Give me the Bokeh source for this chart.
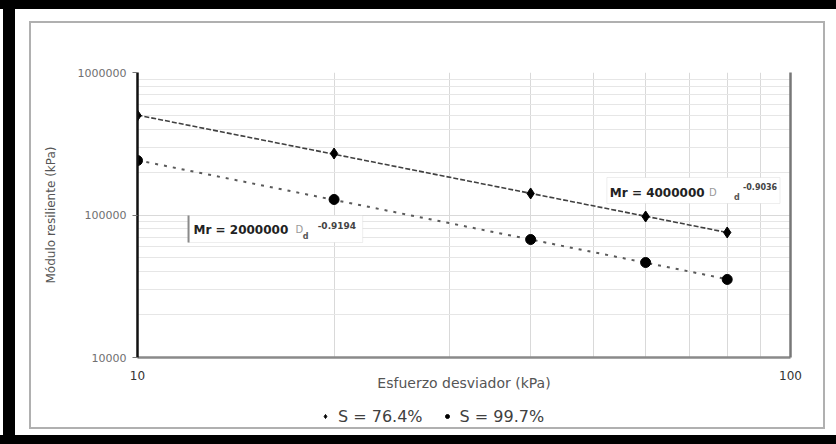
import numpy as np
from bokeh.plotting import figure
from bokeh.layouts import column
from bokeh.models import (FixedTicker, BasicTickFormatter, LogAxis, Legend, LegendItem,
                          BoxAnnotation, Label, Range1d, ColumnDataSource)
from bokeh.embed import file_html
from bokeh.resources import INLINE

# ---------------- data ----------------
esfuerzo = [10, 20, 40, 60, 80]                      # kPa
mr_s764 = [499000, 270000, 141600, 97600, 75400]     # kPa, S = 76.4 %
mr_s997 = [241000, 128500, 67300, 46400, 35300]      # kPa, S = 99.7 %
series_names = ["S = 76.4%", "S = 99.7%"]
eq_s764 = ["Mr = 4000000", "D", "d", "-0.9036"]
eq_s997 = ["Mr = 2000000", "D", "d", "-0.9194"]
x_major = [10, 100]
x_minor = [20, 30, 40, 50, 60, 70, 80, 90]
y_major = [10000, 100000, 1000000]
y_minor = [2e4, 3e4, 4e4, 5e4, 6e4, 7e4, 8e4, 9e4, 2e5, 3e5, 4e5, 5e5, 6e5, 7e5, 8e5, 9e5]
x_title = "Esfuerzo desviador (kPa)"
y_title = "Módulo resiliente (kPa)"

FONT = "DejaVu Sans"
W, H = 836, 444
H_MAIN = 400

# page frame drawn with CSS backgrounds behind transparent canvases
def strip(color, x, y, w, h):
    return (f"linear-gradient({color},{color})", f"{x}px {y}px", f"{w}px {h}px")

strips = [
    strip("#000000", 0, 0, W, 9),        # top black band
    strip("#000000", 3, 0, 12, H),       # left black band
    strip("#000000", 0, 435, W, 9),      # bottom black band
    strip("#b0b0b0", 29, 21, 796, 2),    # inner grey frame
    strip("#b0b0b0", 29, 427, 796, 2),
    strip("#b0b0b0", 29, 21, 2, 408),
    strip("#b0b0b0", 823, 21, 2, 408),
]
page_styles = {
    "background-color": "white",
    "background-image": ", ".join(s[0] for s in strips),
    "background-position": ", ".join(s[1] for s in strips),
    "background-size": ", ".join(s[2] for s in strips),
    "background-repeat": "no-repeat",
}

p = figure(width=W, height=H_MAIN, x_axis_type="log", y_axis_type="log",
           x_range=Range1d(10, 100), y_range=Range1d(1e4, 1e6),
           output_backend="svg", toolbar_location=None,
           min_border_left=137, min_border_right=46, min_border_top=72,
           min_border_bottom=H_MAIN - 357)
p.outline_line_color = None
p.background_fill_color = "white"
p.border_fill_color = None

# axes
xt = FixedTicker(ticks=x_major, minor_ticks=x_minor)
yt = FixedTicker(ticks=y_major, minor_ticks=y_minor)
xa = p.xaxis[0]
xa.ticker = xt
xa.formatter = BasicTickFormatter(use_scientific=False)
xa.axis_line_color = "#8a8a8a"
xa.axis_line_width = 2.5
xa.major_tick_line_color = None
xa.minor_tick_line_color = None
xa.major_label_standoff = 7
xa.major_label_text_font = FONT
xa.major_label_text_font_size = "12px"
xa.major_label_text_color = "#333333"
xa.axis_label = x_title
xa.axis_label_standoff = -8
xa.axis_label_text_font = FONT
xa.axis_label_text_font_size = "14px"
xa.axis_label_text_font_style = "normal"
xa.axis_label_text_color = "#555555"

ya = p.yaxis[0]
ya.ticker = yt
ya.formatter = BasicTickFormatter(use_scientific=False)
ya.axis_line_color = "#111111"
ya.axis_line_width = 2.5
ya.major_tick_line_color = "#777777"
ya.major_tick_out = 5
ya.major_tick_in = 0
ya.minor_tick_line_color = None
ya.major_label_standoff = 6
ya.major_label_text_font = FONT
ya.major_label_text_font_size = "11px"
ya.major_label_text_color = "#707070"
ya.axis_label = y_title
ya.axis_label_standoff = 17
ya.axis_label_text_font = FONT
ya.axis_label_text_font_size = "12px"
ya.axis_label_text_font_style = "normal"
ya.axis_label_text_color = "#555555"

ra = LogAxis(ticker=FixedTicker(ticks=y_major), axis_line_color="#777777", axis_line_width=2.5,
             major_tick_line_color=None, minor_tick_line_color=None,
             major_label_text_color=None, major_label_text_font_size="1px",
             major_label_standoff=0)
p.add_layout(ra, "right")

p.xgrid.ticker = xt
p.ygrid.ticker = yt
p.xgrid.grid_line_color = None
p.xgrid.minor_grid_line_color = "#d9d9d9"
p.ygrid.grid_line_color = "#d9d9d9"
p.ygrid.minor_grid_line_color = "#e6e6e6"

# ---------------- trend lines (power fits of the data) ----------------
def power_fit(xs, ys):
    b, a = np.polyfit(np.log10(xs), np.log10(ys), 1)
    xe = np.array([min(xs), max(xs)], dtype=float)
    return xe, 10 ** (a + b * np.log10(xe))

x1, y1 = power_fit(esfuerzo, mr_s764)
x2, y2 = power_fit(esfuerzo, mr_s997)
p.line(x1, y1, line_color="#404040", line_width=1.6, line_dash="5 2")
p.line(x2, y2, line_color="#5a5a5a", line_width=2, line_dash="3 6")

DIAMOND = dict(marker="diamond", size=11, fill_color="black", line_color="black")
CIRCLE = dict(marker="circle", size=10, fill_color="black", line_color="black")
src = ColumnDataSource(dict(x=esfuerzo, a=mr_s764, b=mr_s997))
p.scatter("x", "a", source=src, **DIAMOND)
p.scatter("x", "b", source=src, **CIRCLE)

# ---------------- helpers: reference pixel -> data coordinates ----------------
def fx(px):
    return 10 ** (1 + (px - 137) / 652.5)

def fy(py):
    return 10 ** (6 - (py - 72) / 142.5)

def eq_box(eq, l, r, t, b, tx, ty, dx, subx, suby, supx, supy, supsize, left_dark=False):
    p.add_layout(BoxAnnotation(left=fx(l), right=fx(r), top=fy(t), bottom=fy(b),
                               fill_color="white", fill_alpha=1,
                               line_color="#c8c8c8", line_width=1))
    if left_dark:
        p.add_layout(BoxAnnotation(left=fx(l - 1), right=fx(l + 1), top=fy(t), bottom=fy(b),
                                   fill_color="#8a8a8a", fill_alpha=1, line_color=None))
    common = dict(x_units="data", y_units="data", text_font=FONT, text_baseline="middle",
                  text_align="left")
    p.add_layout(Label(x=fx(tx), y=fy(ty), text=eq[0], text_font_size="12px",
                       text_font_style="bold", text_color="#222222", **common))
    p.add_layout(Label(x=fx(dx), y=fy(ty), text=eq[1], text_font_size="10px",
                       text_color="#9a9a9a", **common))
    p.add_layout(Label(x=fx(subx), y=fy(suby), text=eq[2], text_font_size="8px",
                       text_font_style="bold", text_color="#555555", **common))
    p.add_layout(Label(x=fx(supx), y=fy(supy), text=eq[3], text_font_size=supsize,
                       text_font_style="bold", text_color="#444444", **common))

eq_box(eq_s764, 606, 779, 177, 203, 609, 192, 708, 733, 197, 742, 186, "8px")
eq_box(eq_s997, 188, 362, 215, 242, 193, 229, 295, 302, 236, 317, 225, "9px", left_dark=True)

# ---------------- legend strip under the chart ----------------
# (the same series are drawn here outside the visible range, only to feed the legend)
lf = figure(width=W, height=H - H_MAIN, x_range=Range1d(0, 1), y_range=Range1d(0, 1),
            output_backend="svg", toolbar_location=None,
            x_axis_location=None, y_axis_location=None,
            min_border_left=0, min_border_right=0, min_border_top=0, min_border_bottom=0)
lf.outline_line_color = None
lf.background_fill_color = None
lf.border_fill_color = None
lf.grid.visible = False
lr1 = lf.scatter("x", "a", source=src, marker="diamond", size=12, fill_color="black", line_color="black")
lr2 = lf.scatter("x", "b", source=src, marker="circle", size=10, fill_color="black", line_color="black")
legend = Legend(items=[LegendItem(label=series_names[0], renderers=[lr1]),
                       LegendItem(label=series_names[1], renderers=[lr2])],
                orientation="horizontal", location=(183, 18),
                border_line_color=None, background_fill_alpha=0,
                padding=4, margin=0, spacing=19, label_standoff=8,
                glyph_width=10, glyph_height=20,
                label_text_font=FONT, label_text_font_size="16px", label_text_color="#404040")
lf.add_layout(legend)

layout = column(p, lf, spacing=0, styles=page_styles)
open("out.html", "w").write(file_html(layout, INLINE))
